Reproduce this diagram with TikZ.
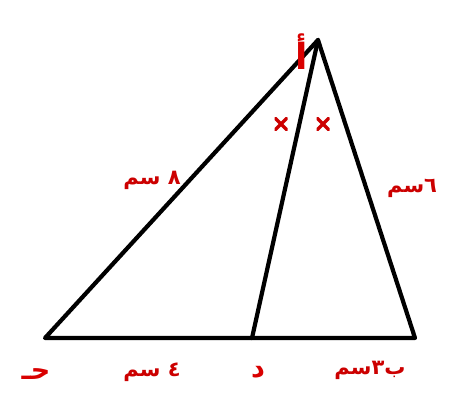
\documentclass[tikz,border=0pt]{standalone}
\usepackage{fontspec}
\newfontfamily\arabicfont[Script=Arabic]{DejaVu Sans}
\TeXXeTstate=1
\begin{document}
\begin{tikzpicture}[x=1pt,y=-1pt,
  edge/.style={line width=4.2pt, line join=round, line cap=round, black},
  lbl/.style={text=red!80!black, font=\arabicfont\bfseries\fontsize{21}{21}\selectfont, inner sep=0pt},
  vlbl/.style={text=red!85!black, font=\arabicfont\bfseries\fontsize{27}{27}\selectfont, inner sep=0pt},
  crossmark/.style={minimum size=13pt, inner sep=0pt,
    path picture={\draw[red!80!black, line width=3.2pt]
      (path picture bounding box.north west) -- (path picture bounding box.south east)
      (path picture bounding box.north east) -- (path picture bounding box.south west);}}]
\useasboundingbox (0,0) rectangle (449,400);
\fill[white] (0,0) rectangle (449,400);
\coordinate (A) at (318,40);
\coordinate (C) at (45,338);
\coordinate (B) at (415,338);
\coordinate (D) at (252,338);
\draw[edge] (A) -- (C) -- (B) -- cycle;
\draw[edge] (A) -- (D);
\node[vlbl, font=\arabicfont\bfseries\fontsize{36}{36}\selectfont] (la) at (302,52) {\beginR أ\endR};
\node[vlbl] (lc) at (36,374) {\beginR حـ\endR};
\node[vlbl] (ld) at (258,372) {\beginR د\endR};
\node[lbl] (lb) at (370,370) {\beginR ب٣سم\endR};
\node[lbl] (l4) at (152,372) {\beginR ٤ سم\endR};
\node[lbl] (l8) at (152,180) {\beginR ٨ سم\endR};
\node[lbl] (l6) at (412,188) {\beginR ٦سم\endR};
\node[crossmark] (x1) at (281,124) {};
\node[crossmark] (x2) at (323,124) {};
\end{tikzpicture}
\end{document}
